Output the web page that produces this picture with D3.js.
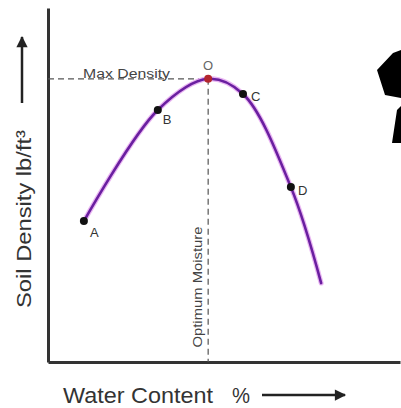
<!DOCTYPE html>
<html>
<head>
<meta charset="utf-8">
<script src="https://cdn.jsdelivr.net/npm/d3@7"></script>
<style>
  body { margin: 0; background: #fff; }
  text { font-family: Arial, "Liberation Sans", sans-serif; }
</style>
</head>
<body>
<div id="chart"></div>
<script>
// compaction curve, values in arbitrary units (0-100 on both axes)
const pointNames = ["A", "B", "O", "C", "D"];
const waterContent = [10.2, 31.2, 45.5, 55.4, 69.0];
const soilDensity = [39.8, 71.2, 80.0, 75.7, 49.4];
// curve runs past D to this end point
const curveEndX = 77.6;
const curveEndY = 22.3;

const width = 401, height = 408;
const margin = {top: 8, left: 48, bottom: 46, right: 1};

const svg = d3.select("#chart")
  .append("svg")
  .attr("width", width)
  .attr("height", height);

const xScale = d3.scaleLinear()
  .domain([0, 100])
  .range([margin.left, width - margin.right]);

const yScale = d3.scaleLinear()
  .domain([0, 100])
  .range([height - margin.bottom, margin.top]);

// arrow head marker
svg.append("defs").append("marker")
  .attr("id", "arrow")
  .attr("viewBox", "0 0 10 10")
  .attr("refX", 9).attr("refY", 5)
  .attr("markerWidth", 5.5).attr("markerHeight", 4.5)
  .attr("markerUnits", "strokeWidth")
  .attr("orient", "auto")
  .append("path")
  .attr("d", "M0,0 L10,5 L0,10 Z")
  .attr("fill", "#222");

// axes, no ticks, just the lines
svg.append("g")
  .attr("class", "x-axis")
  .attr("transform", `translate(0, ${yScale(0)})`)
  .call(d3.axisBottom(xScale).tickValues([]).tickSizeOuter(0))
  .select(".domain")
  .attr("stroke", "#333")
  .attr("stroke-width", 3);

svg.append("g")
  .attr("class", "y-axis")
  .attr("transform", `translate(${xScale(0)}, 0)`)
  .call(d3.axisLeft(yScale).tickValues([]).tickSizeOuter(0))
  .select(".domain")
  .attr("stroke", "#333")
  .attr("stroke-width", 3);

const peak = 2; // index of O
const px = xScale(waterContent[peak]), py = yScale(soilDensity[peak]);

// dashed guide lines
svg.append("line")
  .attr("x1", xScale(0)).attr("x2", px)
  .attr("y1", py).attr("y2", py)
  .attr("stroke", "#555").attr("stroke-width", 1.2)
  .attr("stroke-dasharray", "6,4");

svg.append("line")
  .attr("x1", px).attr("x2", px)
  .attr("y1", py).attr("y2", yScale(0))
  .attr("stroke", "#555").attr("stroke-width", 1.2)
  .attr("stroke-dasharray", "6,4");

svg.append("text")
  .attr("x", 83).attr("y", py - 1)
  .attr("font-size", 12)
  .attr("fill", "#444")
  .attr("textLength", 87)
  .attr("lengthAdjust", "spacingAndGlyphs")
  .text("Max Density");

svg.append("text")
  .attr("transform", `translate(${px - 6}, 287) rotate(-90)`)
  .attr("text-anchor", "middle")
  .attr("font-size", 12)
  .attr("fill", "#444")
  .attr("textLength", 121)
  .attr("lengthAdjust", "spacingAndGlyphs")
  .text("Optimum Moisture");

// the curve
const curveData = waterContent.map((d, i) => [d, soilDensity[i]]).concat([[curveEndX, curveEndY]]);

const line = d3.line()
  .x(d => xScale(d[0]))
  .y(d => yScale(d[1]))
  .curve(d3.curveCatmullRom.alpha(0.5));

svg.append("path")
  .datum(curveData)
  .attr("d", line)
  .attr("fill", "none")
  .attr("stroke", "#e9b6f2")
  .attr("stroke-width", 5)
  .attr("stroke-linecap", "round");

svg.append("path")
  .datum(curveData)
  .attr("d", line)
  .attr("fill", "none")
  .attr("stroke", "#6a1fa0")
  .attr("stroke-width", 2.6)
  .attr("stroke-linecap", "round");

// points + labels
const labelOffset = {A: [6, 16], B: [5, 14], O: [0, -9], C: [8, 7], D: [7, 8]};

svg.selectAll(".pt")
  .data(pointNames)
  .enter()
  .append("circle")
  .attr("class", "pt")
  .attr("cx", (d, i) => xScale(waterContent[i]))
  .attr("cy", (d, i) => yScale(soilDensity[i]))
  .attr("r", 4)
  .attr("fill", d => d == "O" ? "#b3262e" : "#111");

svg.selectAll(".pt-label")
  .data(pointNames)
  .enter()
  .append("text")
  .attr("class", "pt-label")
  .attr("x", (d, i) => xScale(waterContent[i]) + labelOffset[d][0])
  .attr("y", (d, i) => yScale(soilDensity[i]) + labelOffset[d][1])
  .attr("text-anchor", d => d == "O" ? "middle" : "start")
  .attr("font-size", 13)
  .attr("fill", d => d == "O" ? "#666" : "#333")
  .text(d => d);

// axis titles with arrows
svg.append("text")
  .attr("transform", "translate(31, 219) rotate(-90)")
  .attr("text-anchor", "middle")
  .attr("font-size", 21)
  .attr("fill", "#333")
  .attr("textLength", 178)
  .attr("lengthAdjust", "spacingAndGlyphs")
  .text("Soil Density lb/ft³");

svg.append("line")
  .attr("x1", 22).attr("x2", 22)
  .attr("y1", 103).attr("y2", 37)
  .attr("stroke", "#222").attr("stroke-width", 2.5)
  .attr("marker-end", "url(#arrow)");

svg.append("text")
  .attr("x", 63).attr("y", 403)
  .attr("font-size", 22)
  .attr("fill", "#333")
  .attr("textLength", 150)
  .attr("lengthAdjust", "spacingAndGlyphs")
  .text("Water Content");

svg.append("text")
  .attr("x", 232).attr("y", 403)
  .attr("font-size", 22)
  .attr("fill", "#333")
  .attr("textLength", 18)
  .attr("lengthAdjust", "spacingAndGlyphs")
  .text("%");

svg.append("line")
  .attr("x1", 262).attr("x2", 345)
  .attr("y1", 395).attr("y2", 395)
  .attr("stroke", "#222").attr("stroke-width", 2.5)
  .attr("marker-end", "url(#arrow)");

// black shape cut off at the right edge
svg.append("path")
  .attr("d", "M401,50 L393,53 L377,70 L385,95 L401,98 Z M401,106 L397,110 L392,143 L401,143 Z")
  .attr("fill", "#000");
</script>
</body>
</html>
